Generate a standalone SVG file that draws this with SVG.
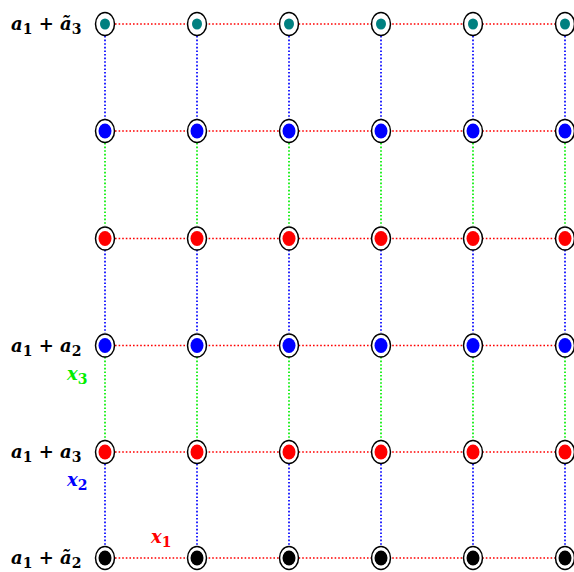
<svg xmlns="http://www.w3.org/2000/svg" width="574" height="572" viewBox="0 0 574 572">
<style>
.h{stroke:#ff0000;stroke-width:1.7;stroke-dasharray:1.6 2;fill:none}
.vb{stroke:#0000ff;stroke-width:1.7;stroke-dasharray:1.6 2;fill:none}
.vg{stroke:#00ee00;stroke-width:1.7;stroke-dasharray:1.6 2;fill:none}
.o{fill:#fff;stroke:#000;stroke-width:1.5}
.t{fill:#008080}.b{fill:#0000ff}.r{fill:#ff0000}.k{fill:#000}
.lab{font-family:"DejaVu Serif",serif;font-weight:bold;font-size:18px;fill:#000}
.m{font-style:italic}
.sub{font-size:14px}
</style>
<rect width="574" height="572" fill="#fff"/>
<g id="connectors">
<path class="h" d="M115 24H564M115 131H564M115 238.5H564M115 345.5H564M115 452H564M115 558H564"/>
<path class="vb" d="M105 36V119M197 36V119M289 36V119M381 36V119M473 36V119M565 36V119"/>
<path class="vg" d="M105 143V226M197 143V226M289 143V226M381 143V226M473 143V226M565 143V226"/>
<path class="vb" d="M105 250V333M197 250V333M289 250V333M381 250V333M473 250V333M565 250V333"/>
<path class="vg" d="M105 357V440M197 357V440M289 357V440M381 357V440M473 357V440M565 357V440"/>
<path class="vb" d="M105 464V546M197 464V546M289 464V546M381 464V546M473 464V546M565 464V546"/>
</g>
<g id="row0">
<g id="n00"><ellipse class="o" cx="105" cy="24" rx="9.5" ry="11.5"/><ellipse class="t" cx="105" cy="24" rx="5" ry="5.5"/></g>
<g id="n01"><ellipse class="o" cx="197" cy="24" rx="9.5" ry="11.5"/><ellipse class="t" cx="197" cy="24" rx="5" ry="5.5"/></g>
<g id="n02"><ellipse class="o" cx="289" cy="24" rx="9.5" ry="11.5"/><ellipse class="t" cx="289" cy="24" rx="5" ry="5.5"/></g>
<g id="n03"><ellipse class="o" cx="381" cy="24" rx="9.5" ry="11.5"/><ellipse class="t" cx="381" cy="24" rx="5" ry="5.5"/></g>
<g id="n04"><ellipse class="o" cx="473" cy="24" rx="9.5" ry="11.5"/><ellipse class="t" cx="473" cy="24" rx="5" ry="5.5"/></g>
<g id="n05"><ellipse class="o" cx="565" cy="24" rx="9.5" ry="11.5"/><ellipse class="t" cx="565" cy="24" rx="5" ry="5.5"/></g>
</g>
<g id="row1">
<g id="n10"><ellipse class="o" cx="105" cy="131" rx="9.5" ry="11.5"/><ellipse class="b" cx="105" cy="131" rx="6.5" ry="7.5"/></g>
<g id="n11"><ellipse class="o" cx="197" cy="131" rx="9.5" ry="11.5"/><ellipse class="b" cx="197" cy="131" rx="6.5" ry="7.5"/></g>
<g id="n12"><ellipse class="o" cx="289" cy="131" rx="9.5" ry="11.5"/><ellipse class="b" cx="289" cy="131" rx="6.5" ry="7.5"/></g>
<g id="n13"><ellipse class="o" cx="381" cy="131" rx="9.5" ry="11.5"/><ellipse class="b" cx="381" cy="131" rx="6.5" ry="7.5"/></g>
<g id="n14"><ellipse class="o" cx="473" cy="131" rx="9.5" ry="11.5"/><ellipse class="b" cx="473" cy="131" rx="6.5" ry="7.5"/></g>
<g id="n15"><ellipse class="o" cx="565" cy="131" rx="9.5" ry="11.5"/><ellipse class="b" cx="565" cy="131" rx="6.5" ry="7.5"/></g>
</g>
<g id="row2">
<g id="n20"><ellipse class="o" cx="105" cy="238.5" rx="9.5" ry="11.5"/><ellipse class="r" cx="105" cy="238.5" rx="6.5" ry="7.5"/></g>
<g id="n21"><ellipse class="o" cx="197" cy="238.5" rx="9.5" ry="11.5"/><ellipse class="r" cx="197" cy="238.5" rx="6.5" ry="7.5"/></g>
<g id="n22"><ellipse class="o" cx="289" cy="238.5" rx="9.5" ry="11.5"/><ellipse class="r" cx="289" cy="238.5" rx="6.5" ry="7.5"/></g>
<g id="n23"><ellipse class="o" cx="381" cy="238.5" rx="9.5" ry="11.5"/><ellipse class="r" cx="381" cy="238.5" rx="6.5" ry="7.5"/></g>
<g id="n24"><ellipse class="o" cx="473" cy="238.5" rx="9.5" ry="11.5"/><ellipse class="r" cx="473" cy="238.5" rx="6.5" ry="7.5"/></g>
<g id="n25"><ellipse class="o" cx="565" cy="238.5" rx="9.5" ry="11.5"/><ellipse class="r" cx="565" cy="238.5" rx="6.5" ry="7.5"/></g>
</g>
<g id="row3">
<g id="n30"><ellipse class="o" cx="105" cy="345.5" rx="9.5" ry="11.5"/><ellipse class="b" cx="105" cy="345.5" rx="6.5" ry="7.5"/></g>
<g id="n31"><ellipse class="o" cx="197" cy="345.5" rx="9.5" ry="11.5"/><ellipse class="b" cx="197" cy="345.5" rx="6.5" ry="7.5"/></g>
<g id="n32"><ellipse class="o" cx="289" cy="345.5" rx="9.5" ry="11.5"/><ellipse class="b" cx="289" cy="345.5" rx="6.5" ry="7.5"/></g>
<g id="n33"><ellipse class="o" cx="381" cy="345.5" rx="9.5" ry="11.5"/><ellipse class="b" cx="381" cy="345.5" rx="6.5" ry="7.5"/></g>
<g id="n34"><ellipse class="o" cx="473" cy="345.5" rx="9.5" ry="11.5"/><ellipse class="b" cx="473" cy="345.5" rx="6.5" ry="7.5"/></g>
<g id="n35"><ellipse class="o" cx="565" cy="345.5" rx="9.5" ry="11.5"/><ellipse class="b" cx="565" cy="345.5" rx="6.5" ry="7.5"/></g>
</g>
<g id="row4">
<g id="n40"><ellipse class="o" cx="105" cy="452" rx="9.5" ry="11.5"/><ellipse class="r" cx="105" cy="452" rx="6.5" ry="7.5"/></g>
<g id="n41"><ellipse class="o" cx="197" cy="452" rx="9.5" ry="11.5"/><ellipse class="r" cx="197" cy="452" rx="6.5" ry="7.5"/></g>
<g id="n42"><ellipse class="o" cx="289" cy="452" rx="9.5" ry="11.5"/><ellipse class="r" cx="289" cy="452" rx="6.5" ry="7.5"/></g>
<g id="n43"><ellipse class="o" cx="381" cy="452" rx="9.5" ry="11.5"/><ellipse class="r" cx="381" cy="452" rx="6.5" ry="7.5"/></g>
<g id="n44"><ellipse class="o" cx="473" cy="452" rx="9.5" ry="11.5"/><ellipse class="r" cx="473" cy="452" rx="6.5" ry="7.5"/></g>
<g id="n45"><ellipse class="o" cx="565" cy="452" rx="9.5" ry="11.5"/><ellipse class="r" cx="565" cy="452" rx="6.5" ry="7.5"/></g>
</g>
<g id="row5">
<g id="n50"><ellipse class="o" cx="105" cy="558" rx="9.5" ry="11.5"/><ellipse class="k" cx="105" cy="558" rx="6.5" ry="7.5"/></g>
<g id="n51"><ellipse class="o" cx="197" cy="558" rx="9.5" ry="11.5"/><ellipse class="k" cx="197" cy="558" rx="6.5" ry="7.5"/></g>
<g id="n52"><ellipse class="o" cx="289" cy="558" rx="9.5" ry="11.5"/><ellipse class="k" cx="289" cy="558" rx="6.5" ry="7.5"/></g>
<g id="n53"><ellipse class="o" cx="381" cy="558" rx="9.5" ry="11.5"/><ellipse class="k" cx="381" cy="558" rx="6.5" ry="7.5"/></g>
<g id="n54"><ellipse class="o" cx="473" cy="558" rx="9.5" ry="11.5"/><ellipse class="k" cx="473" cy="558" rx="6.5" ry="7.5"/></g>
<g id="n55"><ellipse class="o" cx="565" cy="558" rx="9.5" ry="11.5"/><ellipse class="k" cx="565" cy="558" rx="6.5" ry="7.5"/></g>
</g>
<g id="labels">
<text class="lab" x="11" y="30"><tspan class="m">a</tspan><tspan class="sub" dy="4">1</tspan><tspan dy="-4"> + </tspan><tspan class="m">ã</tspan><tspan class="sub" dy="4">3</tspan></text>
<text class="lab" x="11" y="351.5"><tspan class="m">a</tspan><tspan class="sub" dy="4">1</tspan><tspan dy="-4"> + </tspan><tspan class="m">a</tspan><tspan class="sub" dy="4">2</tspan></text>
<text class="lab" x="11" y="458"><tspan class="m">a</tspan><tspan class="sub" dy="4">1</tspan><tspan dy="-4"> + </tspan><tspan class="m">a</tspan><tspan class="sub" dy="4">3</tspan></text>
<text class="lab" x="11" y="564"><tspan class="m">a</tspan><tspan class="sub" dy="4">1</tspan><tspan dy="-4"> + </tspan><tspan class="m">ã</tspan><tspan class="sub" dy="4">2</tspan></text>
<text class="lab" x="67" y="380" style="fill:#00ee00"><tspan class="m">x</tspan><tspan class="sub" dy="4">3</tspan></text>
<text class="lab" x="67" y="486" style="fill:#0000ff"><tspan class="m">x</tspan><tspan class="sub" dy="4">2</tspan></text>
<text class="lab" x="151" y="543" style="fill:#ff0000"><tspan class="m">x</tspan><tspan class="sub" dy="4">1</tspan></text>
</g>
</svg>
